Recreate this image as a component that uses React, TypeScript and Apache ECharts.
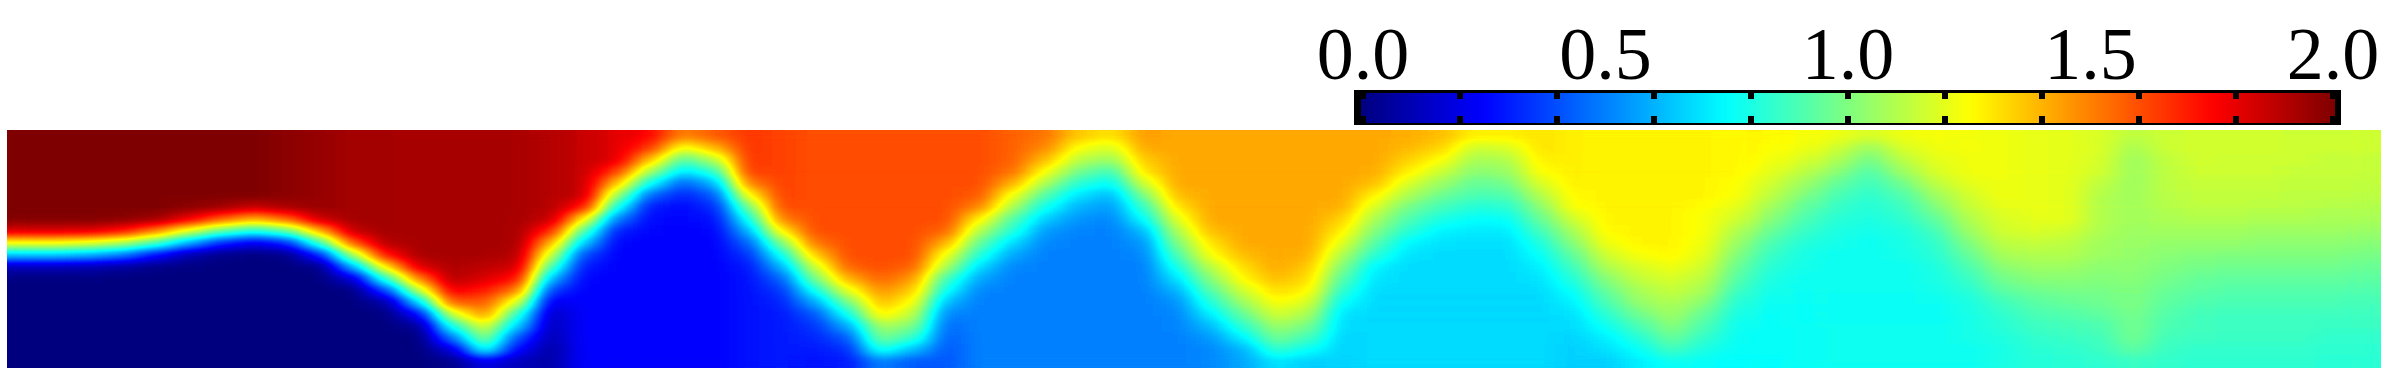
import React, { useEffect, useRef } from "react";
import * as echarts from "echarts";

const jetColors = ["#00007f", "#0000ff", "#007fff", "#00ffff", "#7fff7f", "#ffff00", "#ff7f00", "#ff0000", "#7f0000"];
const colorbarLabelStep = 0.5;
const colorbarMinorStep = 0.2;

// Field values, in hundredths, one array per column, top row first.
const c00 = [200,200,200,200,200,200,200,199,182,125,65,12,1,0,0,0,0,0,0,0];
const c01 = [200,200,200,200,200,200,200,199,182,125,65,12,1,0,0,0,0,0,0,0];
const c02 = [200,200,200,200,200,200,200,199,180,120,60,10,1,0,0,0,0,0,0,0];
const c03 = [200,200,200,200,200,200,200,198,172,110,50,7,0,0,0,0,0,0,0,0];
const c04 = [200,200,200,200,200,200,200,194,150,90,28,2,0,0,0,0,0,0,0,0];
const c05 = [200,200,200,200,200,200,198,178,120,60,10,1,0,0,0,0,0,0,0,0];
const c06 = [200,200,200,200,200,200,194,156,94,34,2,0,0,0,0,0,0,0,0,0];
const c07 = [200,200,200,200,200,200,186,140,80,22,1,0,0,0,0,0,0,0,0,0];
const c08 = [198,198,198,198,198,198,192,155,94,34,2,0,0,0,0,0,0,0,0,0];
const c09 = [195,195,195,195,195,195,195,185,140,88,33,2,0,0,0,0,0,0,0,0];
const c10 = [193,193,193,193,193,193,193,193,187,158,108,60,17,1,0,0,0,0,0,0];
const c11 = [193,193,193,193,193,193,193,193,193,190,172,130,85,39,8,1,0,0,0,0];
const c12 = [192,192,192,192,192,192,192,192,192,192,192,182,150,112,68,27,5,0,0,0];
const c13 = [192,192,192,192,192,192,192,192,192,192,192,191,190,178,157,115,80,48,17,2];
const c14 = [192,192,192,192,192,192,192,192,192,192,192,188,182,170,158,147,120,103,78,20];
const c15 = [192,192,192,192,192,192,192,192,192,192,190,184,172,150,118,85,65,40,25,12];
const c16 = [190,190,190,190,190,190,190,187,168,140,115,90,62,38,22,14,12,10,8,8];
const c17 = [186,186,186,186,186,186,170,128,92,65,40,30,26,25,25,25,25,25,25,25];
const c18 = [180,180,180,163,137,107,79,50,31,26,25,25,25,25,25,25,25,25,25,25];
const c19 = [175,165,138,108,78,46,30,27,26,25,25,25,25,25,25,25,25,25,25,25];
const c20 = [150,122,92,70,45,32,27,26,25,25,25,25,25,25,25,25,25,25,25,25];
const c21 = [158,140,112,86,62,44,34,28,26,25,25,25,25,25,25,25,25,25,25,25];
const c22 = [165,165,165,163,150,125,98,78,60,45,35,30,28,28,28,28,28,28,28,28];
const c23 = [162,162,162,162,162,162,160,150,128,100,78,60,45,36,32,30,30,30,30,30];
const c24 = [160,160,160,160,160,160,160,160,160,152,135,115,98,78,58,42,35,32,30,28];
const c25 = [160,160,160,160,160,160,160,160,160,160,160,155,140,120,98,78,58,42,34,30];
const c26 = [160,160,160,160,160,160,160,160,160,160,160,160,155,147,138,128,108,98,80,50];
const c27 = [160,160,160,160,160,160,160,160,160,160,160,155,145,135,124,112,100,85,62,42];
const c28 = [160,160,160,160,160,160,160,160,155,140,122,108,88,76,62,52,46,44,42,42];
const c29 = [160,160,160,160,160,158,148,127,110,95,82,68,58,52,50,50,50,50,50,50];
const c30 = [156,156,156,153,140,122,108,92,82,68,58,52,50,50,50,50,50,50,50,50];
const c31 = [152,148,138,124,108,92,78,65,56,52,50,50,50,50,50,50,50,50,50,50];
const c32 = [136,124,112,98,84,70,60,54,51,50,50,50,50,50,50,50,50,50,50,50];
const c33 = [130,118,105,88,75,62,56,52,50,50,50,50,50,50,50,50,50,50,50,50];
const c34 = [144,142,136,130,116,100,86,75,62,55,52,50,50,50,50,50,50,50,50,50];
const c35 = [142,142,142,142,142,138,130,120,110,100,90,80,70,60,54,52,51,50,50,50];
const c36 = [142,142,142,142,142,142,142,142,138,130,124,112,102,92,82,72,62,55,52,52];
const c37 = [142,142,142,142,142,142,142,142,142,142,138,132,126,116,106,96,85,72,60,58];
const c38 = [142,142,142,142,142,142,142,142,142,142,142,142,138,132,125,116,106,97,85,70];
const c39 = [142,142,142,142,142,142,142,142,142,142,140,136,132,126,118,108,98,88,76,66];
const c40 = [142,142,142,142,142,142,140,134,128,120,110,100,92,84,76,70,68,67,67,67];
const c41 = [142,142,142,141,137,127,117,108,100,92,83,73,70,68,68,68,68,68,68,68];
const c42 = [141,139,134,128,118,108,98,90,83,74,70,68,68,68,68,68,68,68,68,68];
const c43 = [138,133,125,115,105,97,89,80,73,70,68,68,68,68,68,68,68,68,68,68];
const c44 = [128,115,108,102,96,90,82,75,71,69,68,68,68,68,68,68,68,68,68,68];
const c45 = [128,118,110,104,98,91,83,76,71,69,68,68,68,68,68,68,68,68,68,68];
const c46 = [130,130,128,125,118,110,102,95,88,81,76,72,70,68,68,68,68,68,68,68];
const c47 = [128,128,128,128,128,126,124,116,108,102,94,88,82,77,73,70,68,67,66,66];
const c48 = [127,127,127,127,127,127,127,127,126,122,116,110,102,96,90,84,78,72,69,66];
const c49 = [127,127,127,127,127,127,127,127,127,127,124,118,114,108,104,98,90,82,76,72];
const c50 = [127,127,127,127,127,127,127,127,127,127,126,122,118,114,110,106,102,96,88,78];
const c51 = [127,127,127,127,127,127,125,124,124,122,120,116,112,108,102,96,90,85,80,76];
const c52 = [126,126,126,126,125,124,120,116,110,105,100,96,92,87,83,80,78,77,76,75];
const c53 = [126,125,123,120,116,112,107,102,96,90,86,83,81,79,78,77,76,76,76,75];
const c54 = [124,122,118,112,106,100,95,90,86,82,80,79,78,78,77,77,77,77,77,77];
const c55 = [122,116,110,103,96,90,86,83,81,79,78,78,78,78,78,78,78,78,78,78];
const c56 = [118,106,98,92,88,85,82,81,79,78,78,78,78,78,78,78,78,78,78,78];
const c57 = [122,118,112,106,98,92,87,84,81,80,79,78,78,78,78,78,78,78,78,78];
const c58 = [124,122,120,118,112,106,100,94,89,85,83,81,80,79,78,78,78,78,78,78];
const c59 = [123,123,122,122,120,116,114,110,106,100,95,90,86,83,81,80,79,79,78,78];
const c60 = [122,122,122,122,122,122,120,118,116,112,108,103,98,93,88,85,83,81,80,80];
const c61 = [121,121,121,121,121,121,121,120,118,114,110,106,102,97,93,90,87,85,83,82];
const c62 = [120,120,120,120,120,120,120,120,116,112,110,106,102,99,96,92,89,86,84,83];
const c63 = [118,118,117,116,112,110,110,110,109,107,106,103,101,99,97,94,90,88,86,84];
const c64 = [112,108,106,106,106,107,107,107,106,105,104,103,102,100,100,99,98,97,93,86];
const c65 = [115,115,113,112,112,111,110,109,107,104,102,100,98,96,94,92,90,88,86,85];
const c66 = [116,116,116,115,114,113,112,110,107,104,101,98,95,93,91,89,88,87,85,84];
const c67 = [116,116,115,115,114,113,112,110,107,104,100,97,94,92,90,88,87,86,85,84];
const c68 = [116,116,115,115,114,113,111,109,106,103,100,97,94,92,90,88,87,86,85,84];
const c69 = [115,115,115,114,113,112,111,109,106,103,100,97,94,92,90,88,87,86,85,84];
const c70 = [115,115,114,114,113,112,110,108,106,103,100,97,94,92,90,88,86,85,84,83];
const c71 = [115,115,114,114,113,112,110,108,105,102,99,96,93,91,89,87,86,85,84,83];

const columns = [
  c00,c01,c02,c03,c04,c05,c06,c07,c08,c09,c10,c11,c12,c13,c14,c15,c16,c17,c18,c19,c20,c21,c22,c23,
  c24,c25,c26,c27,c28,c29,c30,c31,c32,c33,c34,c35,c36,c37,c38,c39,c40,c41,c42,c43,c44,c45,c46,c47,
  c48,c49,c50,c51,c52,c53,c54,c55,c56,c57,c58,c59,c60,c61,c62,c63,c64,c65,c66,c67,c68,c69,c70,c71,
];

const heatData: number[][] = [];
columns.forEach((col, x) => col.forEach((v, y) => heatData.push([x, y, v / 100])));

const channelTable = (start: number) =>
  jetColors.map((c) => (parseInt(c.slice(start, start + 2), 16) / 255).toFixed(3)).join(" ");

export default function App() {
  const fieldRef = useRef<HTMLDivElement>(null);
  const barRef = useRef<HTMLDivElement>(null);
  useEffect(() => {
    document.body.style.margin = "0";
    // The field: cells are drawn as value-proportional greys; the SVG filter below smooths them
    // in value space and then maps the result to the jet colour scale.
    const field = echarts.init(fieldRef.current!, undefined, { renderer: "svg" });
    field.setOption({
      animation: false,
      grid: { left: 0, top: 0, right: 0, bottom: 0 },
      xAxis: { type: "category", data: columns.map((_, i) => i), show: false },
      yAxis: { type: "category", inverse: true, data: c00.map((_, i) => i), show: false },
      visualMap: { show: false, min: 0, max: 2, seriesIndex: 0, inRange: { color: ["#000000", "#ffffff"] } },
      series: [
        { type: "heatmap", data: heatData, silent: true, itemStyle: { borderWidth: 0 }, emphasis: { disabled: true } },
      ],
    });

    const chart = echarts.init(barRef.current!, undefined, { renderer: "svg" });
    const hiddenY = (gridIndex: number) => ({ type: "value" as const, gridIndex, min: 0, max: 1, show: false });
    const tickAxis = (gridIndex: number, position: string) => ({
      type: "value" as const,
      gridIndex,
      position,
      min: 0,
      max: 2,
      interval: colorbarMinorStep,
      z: 8,
      splitLine: { show: false },
      axisLine: { show: false, onZero: false },
      axisLabel: { show: false },
      axisTick: { show: true, length: 7, lineStyle: { color: "#000", width: 6 } },
    });
    chart.setOption({
      animation: false,
      grid: [
        { left: 1363, top: 62, width: 970, height: 30 },
        { left: 1363, top: 123, width: 970, height: 30 },
        { left: 1363, top: 92, width: 970, height: 31 },
      ],
      xAxis: [
        tickAxis(0, "bottom"),
        tickAxis(1, "top"),
        {
          type: "value",
          gridIndex: 2,
          position: "top",
          min: 0,
          max: 2,
          interval: colorbarLabelStep,
          z: 8,
          splitLine: { show: false },
          axisLine: { show: false, onZero: false },
          axisTick: { show: false },
          axisLabel: {
            show: true,
            margin: 1,
            color: "#000",
            fontFamily: "Liberation Serif",
            fontSize: 74,
            formatter: (v: number) => v.toFixed(1),
          },
        },
      ],
      yAxis: [hiddenY(0), hiddenY(1), hiddenY(2)],
      visualMap: {
        type: "continuous",
        min: 0,
        max: 2,
        orient: "horizontal",
        left: 1361,
        top: 93,
        padding: 0,
        itemWidth: 30,
        itemHeight: 974,
        calculable: false,
        hoverLink: false,
        inRange: { color: jetColors },
        z: 4,
      },
      graphic: [
        { type: "rect", z: 1, shape: { x: 1354, y: 90, width: 987, height: 35 }, style: { fill: "#000" }, silent: true },
      ],
      series: [],
    });
    return () => {
      field.dispose();
      chart.dispose();
    };
  }, []);
  return (
    <div style={{ position: "absolute", left: 0, top: 0, width: 2385, height: 373, background: "#fff" }}>
      <svg width={0} height={0} style={{ position: "absolute" }}>
        <filter id="fieldJet" x="-5%" y="-10%" width="110%" height="120%" colorInterpolationFilters="sRGB">
          <feGaussianBlur stdDeviation="12 4" />
          <feComponentTransfer>
            <feFuncR type="table" tableValues={channelTable(1)} />
            <feFuncG type="table" tableValues={channelTable(3)} />
            <feFuncB type="table" tableValues={channelTable(5)} />
            <feFuncA type="linear" slope={100} intercept={0} />
          </feComponentTransfer>
        </filter>
      </svg>
      <div style={{ position: "absolute", left: 7, top: 130, width: 2374, height: 238, overflow: "hidden" }}>
        <div ref={fieldRef} style={{ width: 2374, height: 238, filter: "url(#fieldJet)" }} />
      </div>
      <div ref={barRef} style={{ position: "absolute", left: 0, top: 0, width: 2385, height: 373 }} />
    </div>
  );
}
